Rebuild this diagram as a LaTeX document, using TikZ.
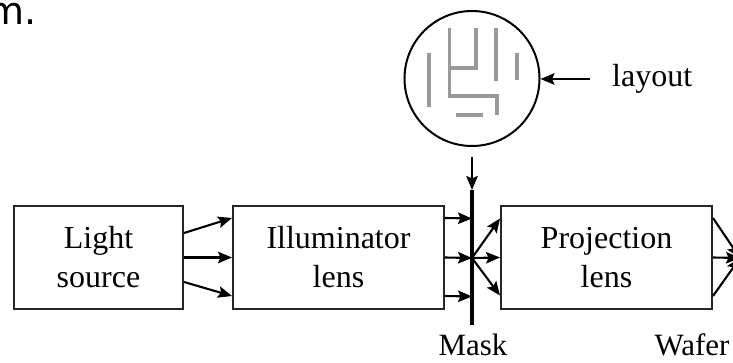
\documentclass[tikz,border=0pt]{standalone}
\usepackage{fontspec}
\setmainfont{Liberation Serif}
\newfontfamily\capfont{DejaVu Sans}
\usetikzlibrary{arrows.meta}
\tikzset{
  boxnode/.style={draw=black!85,line width=2pt,minimum height=103pt,align=center,inner sep=0pt,
    font=\fontsize{32}{39}\selectfont},
  labelnode/.style={inner sep=0pt,anchor=base,font=\fontsize{31}{34}\selectfont},
  conn/.style={line width=2.1pt,-{Stealth[length=14pt,width=11.5pt,inset=2.5pt]}},
  patternline/.style={draw=black!40,line width=3.6pt},
}
\begin{document}
\begin{tikzpicture}[x=1pt,y=-1pt]
\useasboundingbox (0,0) rectangle (733,363);
\node[anchor=base east,inner sep=0pt,font=\capfont\fontsize{38}{38}\selectfont] (frag) at (37,25) {m.};
\node[boxnode,minimum width=169pt] (light) at (98.5,257.5) {Light\\source};
\node[boxnode,minimum width=211pt] (illum) at (338.5,257.5) {Illuminator\\lens};
\node[boxnode,minimum width=211pt] (proj) at (606.5,257.5) {Projection\\lens};
\node[circle,draw=black,line width=2pt,minimum size=135pt,inner sep=0pt] (layoutc) at (472,78.5) {};
\draw[patternline] (449.3,28)--(449.3,96)--(496.7,96)--(496.7,115);
\draw[patternline] (449.3,68)--(476,68)--(476,28);
\draw[patternline] (495.7,28)--(495.7,81);
\draw[patternline] (516.7,53)--(516.7,80);
\draw[patternline] (428.7,53)--(428.7,107);
\draw[patternline] (456,115.3)--(482.7,115.3);
% mask
\coordinate (masktop) at (472,190);
\coordinate (maskbot) at (472,325);
\coordinate (maskmid) at (472,258);
\draw[line width=3.8pt,black] (masktop) -- (maskbot);
\node[labelnode] (masklabel) at (473,355) {Mask};
\node[labelnode] (waferlabel) at (692,355) {Wafer};
\node[labelnode,anchor=base west,font=\fontsize{32}{36}\selectfont] (layoutlabel) at (612,87) {layout};
\coordinate (layoutstart) at (590,79);
\draw[conn] (layoutstart) -- (layoutstart -| layoutc.east);
\coordinate (downstart) at (472,157);
\draw[conn] (downstart) -- (masktop);
% light to illuminator
\draw[conn] ([yshift=-24.5pt]light.east) -- ([yshift=-38.5pt]illum.west);
\draw[conn] (light.east) -- (illum.west);
\draw[conn] ([yshift=24.5pt]light.east) -- ([yshift=39.5pt]illum.west);
% illuminator to mask
\draw[conn] ([yshift=-38.5pt]illum.east) -- ([yshift=-38.5pt]maskmid);
\draw[conn] (illum.east) -- (maskmid);
\draw[conn] ([yshift=39.5pt]illum.east) -- ([yshift=39.5pt]maskmid);
% mask to projection
\draw[conn] (maskmid) -- ([yshift=-38pt]proj.west);
\draw[conn] (maskmid) -- (proj.west);
\draw[conn] (maskmid) -- ([yshift=39pt]proj.west);
% projection to wafer
\coordinate (wafertip) at (740,258);
\draw[conn] ([yshift=-38.5pt]proj.east) -- (wafertip);
\draw[conn] (proj.east) -- (wafertip);
\draw[conn] ([yshift=39.5pt]proj.east) -- (wafertip);
\end{tikzpicture}
\end{document}
